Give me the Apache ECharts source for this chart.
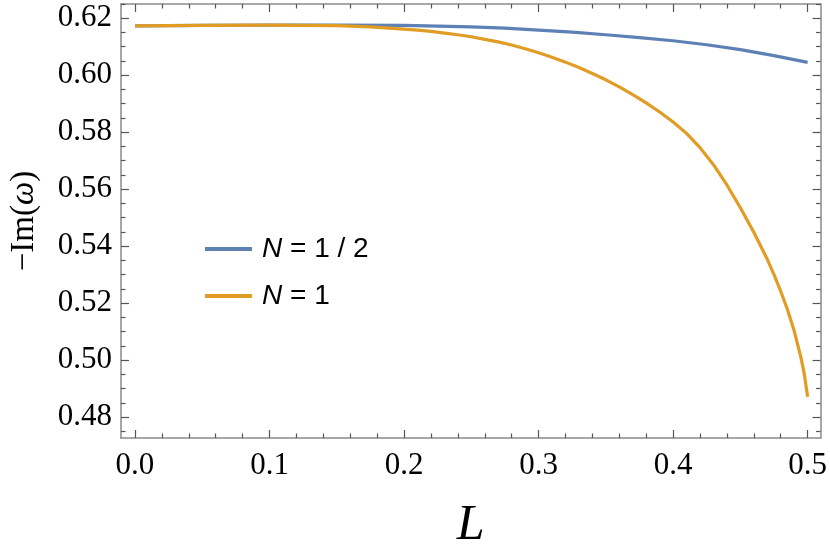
<!DOCTYPE html>
<html>
<head>
<meta charset="utf-8">
<script src="https://cdn.jsdelivr.net/npm/echarts@6/dist/echarts.min.js"></script>
<style>
  html, body { margin: 0; background: #fff; }
  #chart { width: 830px; height: 556px; }
</style>
</head>
<body>
<div id="chart"></div>
<script>
// N = 1/2 curve
const lHalf = [0, 0.05, 0.1, 0.15, 0.2, 0.25, 0.275, 0.3, 0.325, 0.35, 0.375, 0.4, 0.425, 0.45, 0.475, 0.5];
const imHalf = [0.6173, 0.6175, 0.6176, 0.6176, 0.6175, 0.6170, 0.6165, 0.6158, 0.6151, 0.6142,
  0.6132, 0.6121, 0.6107, 0.6090, 0.6069, 0.6045];

// N = 1 curve
const lOne = [0, 0.05, 0.1, 0.15, 0.175, 0.2, 0.21, 0.22, 0.23, 0.24, 0.25, 0.26, 0.27, 0.28, 0.29,
  0.3, 0.31, 0.32, 0.33, 0.34, 0.35, 0.36, 0.37, 0.38, 0.39, 0.4, 0.41, 0.42, 0.43, 0.44, 0.45,
  0.46, 0.47, 0.475, 0.48, 0.485, 0.49, 0.495, 0.4975, 0.5];
const imOne = [0.6173, 0.6175, 0.6176, 0.6174, 0.6170, 0.6162, 0.6158, 0.6154, 0.6148, 0.6142,
  0.6135, 0.6126, 0.6117, 0.6106, 0.6093, 0.6079, 0.6063, 0.6046, 0.6027, 0.6006, 0.5984,
  0.5959, 0.5932, 0.5903, 0.5871, 0.5836, 0.5796, 0.5746, 0.5686, 0.5615, 0.5535, 0.5449,
  0.5354, 0.5300, 0.5242, 0.5178, 0.5103, 0.5010, 0.4952, 0.4872];

const xTicks = [0, 0.1, 0.2, 0.3, 0.4, 0.5];
const yTicks = [0.48, 0.5, 0.52, 0.54, 0.56, 0.58, 0.6, 0.62];

const xRange = [-0.0104, 0.5096];
const yRange = [0.4727, 0.625];

// minor ticks: x every 0.02, y every 0.005
const xMinor = [];
for (let i = 0; i <= 25; i++) {
  if (i % 5) xMinor.push(+(i * 0.02).toFixed(3));
}
const yMinor = [];
for (let i = 95; i <= 125; i++) {
  if (i % 4) yMinor.push(+(i * 0.005).toFixed(4));
}

const frameColor = "#8a8a8a";
const tickColor = "#555";
const serif = "Liberation Serif";

function makeAxis(kind, position, ticks, len, labels, showLine) {
  const range = kind === "x" ? xRange : yRange;
  const ax = {
    type: "value",
    position: position,
    min: range[0],
    max: range[1],
    splitLine: { show: false },
    axisLine: { show: showLine, onZero: false, lineStyle: { color: frameColor, width: 1.5 } },
    axisTick: {
      show: true,
      inside: true,
      length: len,
      customValues: ticks,
      lineStyle: { color: tickColor, width: 1.2 },
    },
    axisLabel: { show: false, customValues: ticks },
  };
  if (labels) {
    ax.axisLabel = {
      show: true,
      customValues: ticks,
      margin: kind === "x" ? 12 : 9,
      fontFamily: serif,
      fontSize: 31,
      color: "#000",
      formatter: (v) => v.toFixed(kind === "x" ? 1 : 2),
    };
  }
  return ax;
}

const xAxes = [
  makeAxis("x", "bottom", xTicks, 8, true, true),
  makeAxis("x", "bottom", xMinor, 4.5, false, false),
  makeAxis("x", "top", xTicks, 8, false, true),
  makeAxis("x", "top", xMinor, 4.5, false, false),
];
xAxes[0].name = "L";
xAxes[0].nameLocation = "middle";
xAxes[0].nameGap = 63;
xAxes[0].nameTextStyle = { fontFamily: serif, fontStyle: "italic", fontSize: 50, color: "#000" };

const yAxes = [
  makeAxis("y", "left", yTicks, 8, true, true),
  makeAxis("y", "left", yMinor, 4.5, false, false),
  makeAxis("y", "right", yTicks, 8, false, true),
  makeAxis("y", "right", yMinor, 4.5, false, false),
];
yAxes[0].name = "−Im({w|ω})";
yAxes[0].nameLocation = "middle";
yAxes[0].nameRotate = 90;
yAxes[0].nameGap = 80;
yAxes[0].nameTextStyle = {
  fontFamily: serif,
  fontSize: 33,
  color: "#000",
  rich: { w: { fontFamily: serif, fontStyle: "italic", fontSize: 33, color: "#000" } },
};

const legendLabels = { "N = 1/2": "{i|N} = 1 / 2", "N = 1": "{i|N} = 1" };

const chart = echarts.init(document.getElementById("chart"));
chart.setOption({
  animation: false,
  backgroundColor: "#fff",
  grid: { left: 121, right: 7, top: 4, bottom: 118 },
  legend: {
    orient: "vertical",
    left: 200,
    top: 229,
    icon: "rect",
    itemWidth: 47,
    itemHeight: 4,
    itemGap: 17,
    formatter: (name) => legendLabels[name],
    textStyle: {
      fontFamily: "Liberation Sans",
      fontSize: 28,
      lineHeight: 30,
      padding: [0, 0, 0, 5],
      color: "#000",
      rich: { i: { fontFamily: "Liberation Sans", fontStyle: "italic", fontSize: 28, color: "#000" } },
    },
  },
  xAxis: xAxes,
  yAxis: yAxes,
  series: [
    {
      name: "N = 1/2",
      type: "line",
      data: lHalf.map((l, i) => [l, imHalf[i]]),
      showSymbol: false,
      smooth: false,
      color: "#5E81B5",
      lineStyle: { width: 3.2, join: "round" },
    },
    {
      name: "N = 1",
      type: "line",
      data: lOne.map((l, i) => [l, imOne[i]]),
      showSymbol: false,
      smooth: false,
      color: "#E19C24",
      lineStyle: { width: 3.2, join: "round" },
    },
  ],
});
</script>
</body>
</html>
